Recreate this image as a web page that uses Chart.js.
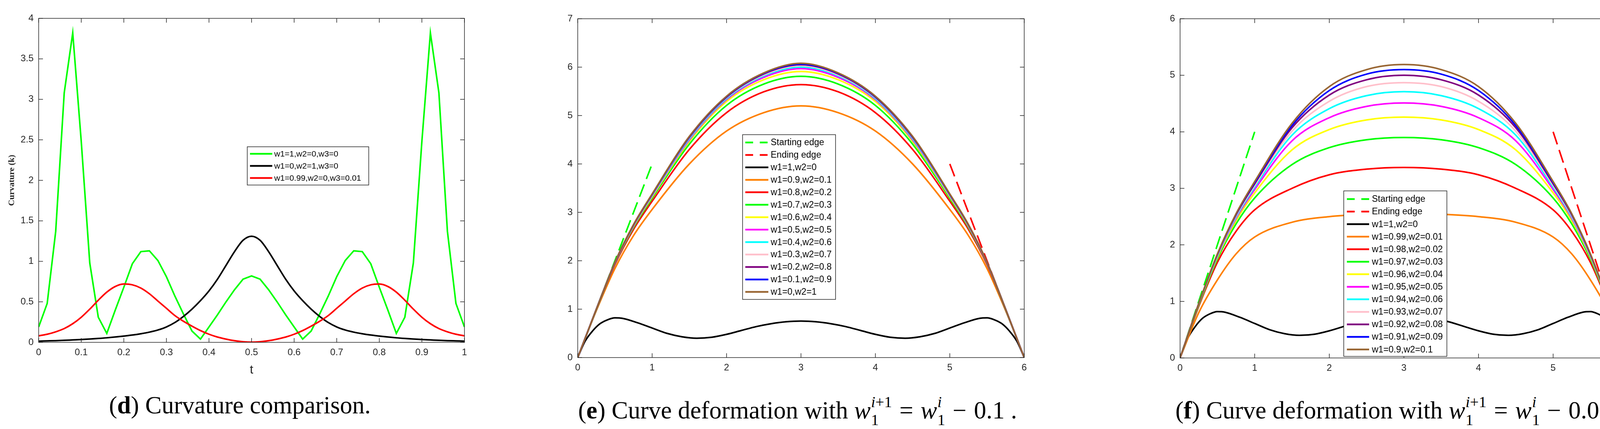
<!DOCTYPE html>
<html>
<head>
<meta charset="utf-8">
<script src="https://cdn.jsdelivr.net/npm/chart.js@4.4.1/dist/chart.umd.min.js"></script>
<style>
html, body { margin: 0; padding: 0; background: #fff; }
body { width: 4190px; height: 1099px; position: relative; overflow: hidden; }
canvas { position: absolute; top: 0; }
.cap { position: absolute; top: 1007px; font-family: 'Liberation Serif', serif; font-size: 63px; line-height: 63px; color: #000; white-space: nowrap; }
.st { display: inline-flex; flex-direction: column; font-size: 40px; line-height: 46px; vertical-align: 29px; margin-left: 1px; }
.op { margin: 0 0.3em; }
</style>
</head>
<body>
<canvas id="chartD" width="1240" height="1000" style="left:0px"></canvas>
<canvas id="chartE" width="1280" height="1000" style="left:1400px"></canvas>
<canvas id="chartF" width="1250" height="1000" style="left:2940px"></canvas>

<div class="cap" style="left:279px">(<b>d</b>) Curvature comparison.</div>
<div class="cap" style="left:1480px">(<b>e</b>) Curve deformation with <i>w</i><span class="st"><span><i>i</i>+1</span><span>1</span></span><span class="op">=</span><i>w</i><span class="st"><span><i>i</i></span><span>1</span></span><span class="op">−</span>0.1 .</div>
<div class="cap" style="left:3009px">(<b>f</b>) Curve deformation with <i>w</i><span class="st"><span><i>i</i>+1</span><span>1</span></span><span class="op">=</span><i>w</i><span class="st"><span><i>i</i></span><span>1</span></span><span class="op">−</span>0.01.</div>

<script>
// ---------- panel (d): curvature against t ----------
const tValues = [0, 0.02, 0.04, 0.06, 0.08, 0.1, 0.12, 0.14, 0.16, 0.18, 0.2, 0.22, 0.24, 0.26, 0.28, 0.3, 0.32, 0.34, 0.36, 0.38, 0.4, 0.42, 0.44, 0.46, 0.48, 0.5,
    0.52, 0.54, 0.56, 0.58, 0.6, 0.62, 0.64, 0.66, 0.68, 0.7, 0.72, 0.74, 0.76, 0.78, 0.8, 0.82, 0.84, 0.86, 0.88, 0.9, 0.92, 0.94, 0.96, 0.98, 1];
const kGreen = [0.19, 0.48, 1.37, 3.08, 3.82, 2.48, 0.98, 0.31, 0.11, 0.40, 0.68, 0.97, 1.12, 1.13, 1.01, 0.81, 0.57, 0.35, 0.14, 0.04, 0.19, 0.34, 0.50, 0.65, 0.78, 0.82,
    0.78, 0.65, 0.50, 0.34, 0.19, 0.04, 0.14, 0.35, 0.57, 0.81, 1.01, 1.13, 1.12, 0.97, 0.68, 0.40, 0.11, 0.31, 0.98, 2.48, 3.82, 3.08, 1.37, 0.48, 0.19];
const kBlack = [0.015, 0.018, 0.021, 0.025, 0.030, 0.035, 0.041, 0.048, 0.056, 0.066, 0.077, 0.090, 0.106, 0.126, 0.152, 0.19, 0.245, 0.32, 0.41, 0.515, 0.635, 0.78, 0.95, 1.12, 1.26, 1.31,
    1.26, 1.12, 0.95, 0.78, 0.635, 0.515, 0.41, 0.32, 0.245, 0.19, 0.152, 0.126, 0.106, 0.090, 0.077, 0.066, 0.056, 0.048, 0.041, 0.035, 0.030, 0.025, 0.021, 0.018, 0.015];
const kRed = [0.08, 0.10, 0.13, 0.17, 0.23, 0.31, 0.41, 0.52, 0.62, 0.69, 0.72, 0.71, 0.67, 0.60, 0.51, 0.42, 0.33, 0.26, 0.20, 0.145, 0.10, 0.065, 0.04, 0.02, 0.007, 0.002,
    0.007, 0.02, 0.04, 0.065, 0.10, 0.145, 0.20, 0.26, 0.33, 0.42, 0.51, 0.60, 0.67, 0.71, 0.72, 0.69, 0.62, 0.52, 0.41, 0.31, 0.23, 0.17, 0.13, 0.10, 0.08];
const dLabels = ['w1=1,w2=0,w3=0', 'w1=0,w2=1,w3=0', 'w1=0.99,w2=0,w3=0.01'];

// ---------- panels (e) and (f): deformed curves ----------
const xCurve = [0, 0.25, 0.5, 0.75, 1, 1.5, 2, 2.5, 3, 3.5, 4, 4.5, 5, 5.25, 5.5, 5.75, 6];
const xBlack = [0, 0.1, 0.2, 0.3, 0.4, 0.5, 0.6, 0.8, 1, 1.2, 1.4, 1.6, 1.8, 2, 2.2, 2.4, 2.6, 2.8, 3,
    3.2, 3.4, 3.6, 3.8, 4, 4.2, 4.4, 4.6, 4.8, 5, 5.2, 5.4, 5.5, 5.6, 5.7, 5.8, 5.9, 6];
const yBlack = [0, 0.34, 0.55, 0.70, 0.78, 0.82, 0.81, 0.72, 0.61, 0.50, 0.43, 0.40, 0.42, 0.48, 0.56, 0.64, 0.70, 0.74, 0.755,
    0.74, 0.70, 0.64, 0.56, 0.48, 0.42, 0.40, 0.43, 0.50, 0.61, 0.72, 0.81, 0.82, 0.78, 0.70, 0.55, 0.34, 0];
const startX = [0, 1], startY = [0, 4];
const endX = [5, 6], endY = [4, 0];

const eOrange  = [0, 0.97, 1.84, 2.52, 3.06, 4.00, 4.68, 5.06, 5.20, 5.06, 4.68, 4.00, 3.06, 2.52, 1.84, 0.97, 0];
const eRed     = [0, 0.99, 1.92, 2.65, 3.23, 4.30, 5.06, 5.49, 5.64, 5.49, 5.06, 4.30, 3.23, 2.65, 1.92, 0.99, 0];
const eGreen   = [0, 0.99, 1.94, 2.69, 3.29, 4.41, 5.21, 5.65, 5.81, 5.65, 5.21, 4.41, 3.29, 2.69, 1.94, 0.99, 0];
const eYellow  = [0, 1.00, 1.95, 2.71, 3.32, 4.47, 5.29, 5.74, 5.91, 5.74, 5.29, 4.47, 3.32, 2.71, 1.95, 1.00, 0];
const eMagenta = [0, 1.00, 1.95, 2.72, 3.34, 4.50, 5.33, 5.79, 5.97, 5.79, 5.33, 4.50, 3.34, 2.72, 1.95, 1.00, 0];
const eCyan    = [0, 1.00, 1.96, 2.73, 3.35, 4.52, 5.35, 5.82, 6.00, 5.82, 5.35, 4.52, 3.35, 2.73, 1.96, 1.00, 0];
const ePink    = [0, 1.00, 1.96, 2.73, 3.36, 4.54, 5.37, 5.84, 6.03, 5.84, 5.37, 4.54, 3.36, 2.73, 1.96, 1.00, 0];
const ePurple  = [0, 1.00, 1.96, 2.74, 3.37, 4.55, 5.38, 5.86, 6.05, 5.86, 5.38, 4.55, 3.37, 2.74, 1.96, 1.00, 0];
const eBlue    = [0, 1.00, 1.97, 2.74, 3.37, 4.56, 5.39, 5.87, 6.06, 5.87, 5.39, 4.56, 3.37, 2.74, 1.97, 1.00, 0];
const eBrown   = [0, 1.00, 1.97, 2.75, 3.38, 4.57, 5.40, 5.88, 6.08, 5.88, 5.40, 4.57, 3.38, 2.75, 1.97, 1.00, 0];

const fOrange  = [0, 0.80, 1.38, 1.84, 2.14, 2.40, 2.50, 2.54, 2.55, 2.54, 2.50, 2.40, 2.14, 1.84, 1.38, 0.80, 0];
const fRed     = [0, 0.91, 1.69, 2.24, 2.62, 3.00, 3.24, 3.34, 3.37, 3.34, 3.24, 3.00, 2.62, 2.24, 1.69, 0.91, 0];
const fGreen   = [0, 0.93, 1.75, 2.37, 2.83, 3.42, 3.72, 3.86, 3.90, 3.86, 3.72, 3.42, 2.83, 2.37, 1.75, 0.93, 0];
const fYellow  = [0, 0.94, 1.78, 2.43, 2.92, 3.68, 4.04, 4.21, 4.26, 4.21, 4.04, 3.68, 2.92, 2.43, 1.78, 0.94, 0];
const fMagenta = [0, 0.95, 1.80, 2.47, 2.98, 3.84, 4.25, 4.45, 4.51, 4.45, 4.25, 3.84, 2.98, 2.47, 1.80, 0.95, 0];
const fCyan    = [0, 0.95, 1.81, 2.49, 3.02, 3.94, 4.41, 4.64, 4.71, 4.64, 4.41, 3.94, 3.02, 2.49, 1.81, 0.95, 0];
const fPink    = [0, 0.96, 1.82, 2.51, 3.05, 4.01, 4.54, 4.80, 4.87, 4.80, 4.54, 4.01, 3.05, 2.51, 1.82, 0.96, 0];
const fPurple  = [0, 0.96, 1.83, 2.53, 3.08, 4.07, 4.65, 4.92, 5.00, 4.92, 4.65, 4.07, 3.08, 2.53, 1.83, 0.96, 0];
const fBlue    = [0, 0.96, 1.83, 2.54, 3.10, 4.11, 4.73, 5.02, 5.10, 5.02, 4.73, 4.11, 3.10, 2.54, 1.83, 0.96, 0];
const fBrown   = [0, 0.96, 1.84, 2.55, 3.12, 4.15, 4.80, 5.10, 5.19, 5.10, 4.80, 4.15, 3.12, 2.55, 1.84, 0.96, 0];

const eLabels = ['Starting edge', 'Ending edge', 'w1=1,w2=0', 'w1=0.9,w2=0.1', 'w1=0.8,w2=0.2', 'w1=0.7,w2=0.3', 'w1=0.6,w2=0.4',
    'w1=0.5,w2=0.5', 'w1=0.4,w2=0.6', 'w1=0.3,w2=0.7', 'w1=0.2,w2=0.8', 'w1=0.1,w2=0.9', 'w1=0,w2=1'];
const fLabels = ['Starting edge', 'Ending edge', 'w1=1,w2=0', 'w1=0.99,w2=0.01', 'w1=0.98,w2=0.02', 'w1=0.97,w2=0.03', 'w1=0.96,w2=0.04',
    'w1=0.95,w2=0.05', 'w1=0.94,w2=0.06', 'w1=0.93,w2=0.07', 'w1=0.92,w2=0.08', 'w1=0.91,w2=0.09', 'w1=0.9,w2=0.1'];
const curveColors = ['#00ff00', '#ff0000', '#000000', '#ff8000', '#ff0000', '#00ff00', '#ffff00',
    '#ff00ff', '#00ffff', '#ffc0cb', '#800080', '#0000ff', '#996633'];

const AXIS_COLOR = '#262626';

// Box and inward ticks on all four sides, like MATLAB axes
const matlabAxes = {
    id: 'matlabAxes',
    afterDatasetsDraw(chart) {
        const {ctx, chartArea: a, scales} = chart;
        ctx.save();
        ctx.strokeStyle = AXIS_COLOR;
        ctx.lineWidth = 1.5;
        ctx.strokeRect(a.left, a.top, a.right - a.left, a.bottom - a.top);
        ctx.beginPath();
        scales.x.ticks.forEach(t => {
            const px = scales.x.getPixelForValue(t.value);
            ctx.moveTo(px, a.bottom); ctx.lineTo(px, a.bottom - 11);
            ctx.moveTo(px, a.top); ctx.lineTo(px, a.top + 11);
        });
        scales.y.ticks.forEach(t => {
            const py = scales.y.getPixelForValue(t.value);
            ctx.moveTo(a.left, py); ctx.lineTo(a.left + 11, py);
            ctx.moveTo(a.right, py); ctx.lineTo(a.right - 11, py);
        });
        ctx.stroke();
        ctx.restore();
    }
};

// Legend drawn as a boxed list inside the plot
const boxLegend = {
    id: 'boxLegend',
    afterDraw(chart, args, opts) {
        const {ctx} = chart;
        ctx.save();
        ctx.fillStyle = '#fff';
        ctx.fillRect(opts.x, opts.y, opts.w, opts.h);
        ctx.strokeStyle = AXIS_COLOR;
        ctx.lineWidth = 1.5;
        ctx.strokeRect(opts.x, opts.y, opts.w, opts.h);
        ctx.font = opts.fontSize + 'px "Liberation Sans", Arial, sans-serif';
        ctx.textBaseline = 'middle';
        chart.data.datasets.forEach((d, i) => {
            const cy = opts.y + opts.first + i * opts.row;
            ctx.beginPath();
            ctx.setLineDash(d.borderDash ? [20, 17] : []);
            ctx.strokeStyle = d.borderColor;
            ctx.lineWidth = 4.5;
            ctx.moveTo(opts.x + opts.line0, cy);
            ctx.lineTo(opts.x + opts.line1, cy);
            ctx.stroke();
            ctx.setLineDash([]);
            ctx.fillStyle = '#000';
            ctx.fillText(d.label, opts.x + opts.text, cy + 1);
        });
        ctx.restore();
    }
};

function curveSet(label, color, xs, ys, extra) {
    return Object.assign({
        label: label,
        borderColor: color,
        backgroundColor: color,
        data: xs.map((x, i) => ({x: x, y: ys[i]})),
        borderWidth: 4,
        pointRadius: 0,
        fill: false,
        cubicInterpolationMode: 'monotone'
    }, extra || {});
}

function tickText(v) {
    return String(Number(v.toFixed(2)));
}

function makeChart(id, cfg) {
    // later series are drawn on top, as in the original plot
    cfg.datasets.forEach((d, i) => { d.order = cfg.datasets.length - i; });
    const tickFont = {family: "'Liberation Sans', Arial, sans-serif", size: 24};
    return new Chart(document.getElementById(id), {
        type: 'line',
        data: {datasets: cfg.datasets},
        options: {
            responsive: false,
            animation: false,
            devicePixelRatio: 1,
            events: [],
            layout: {padding: cfg.padding},
            scales: {
                x: {
                    type: 'linear', min: cfg.xMin, max: cfg.xMax,
                    grid: {display: false, drawTicks: false},
                    border: {display: false},
                    ticks: {stepSize: cfg.xStep, color: AXIS_COLOR, font: tickFont, padding: 12, maxRotation: 0, autoSkip: false, callback: tickText},
                    title: cfg.xTitle || {display: false},
                    afterFit: s => { s.height = cfg.xHeight; }
                },
                y: {
                    type: 'linear', min: cfg.yMin, max: cfg.yMax,
                    grid: {display: false, drawTicks: false},
                    border: {display: false},
                    ticks: {stepSize: cfg.yStep, color: AXIS_COLOR, font: tickFont, padding: 13, autoSkip: false, callback: tickText},
                    title: cfg.yTitle || {display: false},
                    afterFit: s => { s.width = cfg.yWidth; }
                }
            },
            plugins: {
                legend: {display: false},
                tooltip: {enabled: false},
                boxLegend: cfg.legend
            }
        },
        plugins: [matlabAxes, boxLegend]
    });
}

// ---------- (d) ----------
makeChart('chartD', {
    datasets: [
        curveSet(dLabels[0], '#00ff00', tValues, kGreen, {cubicInterpolationMode: 'default', tension: 0}),
        curveSet(dLabels[1], '#000000', tValues, kBlack),
        curveSet(dLabels[2], '#ff0000', tValues, kRed)
    ],
    padding: {left: 0, top: 47, right: 51, bottom: 0},
    xMin: 0, xMax: 1, xStep: 0.1,
    yMin: 0, yMax: 4, yStep: 0.5,
    xHeight: 123, yWidth: 99,
    xTitle: {display: true, text: 't', color: AXIS_COLOR, font: {family: "'Liberation Sans', Arial, sans-serif", size: 32}, padding: {top: 33, bottom: 33}},
    yTitle: {display: true, text: 'Curvature (k)', color: AXIS_COLOR, font: {family: "'Liberation Serif', serif", size: 22, weight: 'bold'}, padding: {top: 17, bottom: 0}},
    legend: {x: 633, y: 376, w: 311, h: 98, first: 18, row: 31, line0: 7, line1: 64, text: 69, fontSize: 21}
});

// ---------- (e) and (f) ----------
function deformSets(labels, curves) {
    const sets = [
        curveSet(labels[0], curveColors[0], startX, startY, {borderDash: [34, 15]}),
        curveSet(labels[1], curveColors[1], endX, endY, {borderDash: [34, 15]}),
        curveSet(labels[2], curveColors[2], xBlack, yBlack)
    ];
    curves.forEach((ys, i) => {
        sets.push(curveSet(labels[i + 3], curveColors[i + 3], xCurve, ys));
    });
    return sets;
}

makeChart('chartE', {
    datasets: deformSets(eLabels, [eOrange, eRed, eGreen, eYellow, eMagenta, eCyan, ePink, ePurple, eBlue, eBrown]),
    padding: {left: 0, top: 48, right: 58, bottom: 0},
    xMin: 0, xMax: 6, xStep: 1,
    yMin: 0, yMax: 7, yStep: 1,
    xHeight: 84, yWidth: 79,
    legend: {x: 501, y: 345, w: 238, h: 422, first: 20, row: 31.9, line0: 7, line1: 66, text: 72, fontSize: 23}
});

makeChart('chartF', {
    datasets: deformSets(fLabels, [fOrange, fRed, fGreen, fYellow, fMagenta, fCyan, fPink, fPurple, fBlue, fBrown]),
    padding: {left: 0, top: 48, right: 23, bottom: 0},
    xMin: 0, xMax: 6, xStep: 1,
    yMin: 0, yMax: 6, yStep: 1,
    xHeight: 83, yWidth: 81,
    legend: {x: 500, y: 489, w: 264, h: 424, first: 21, row: 32.1, line0: 8, line1: 65, text: 72, fontSize: 23}
});
</script>
</body>
</html>
